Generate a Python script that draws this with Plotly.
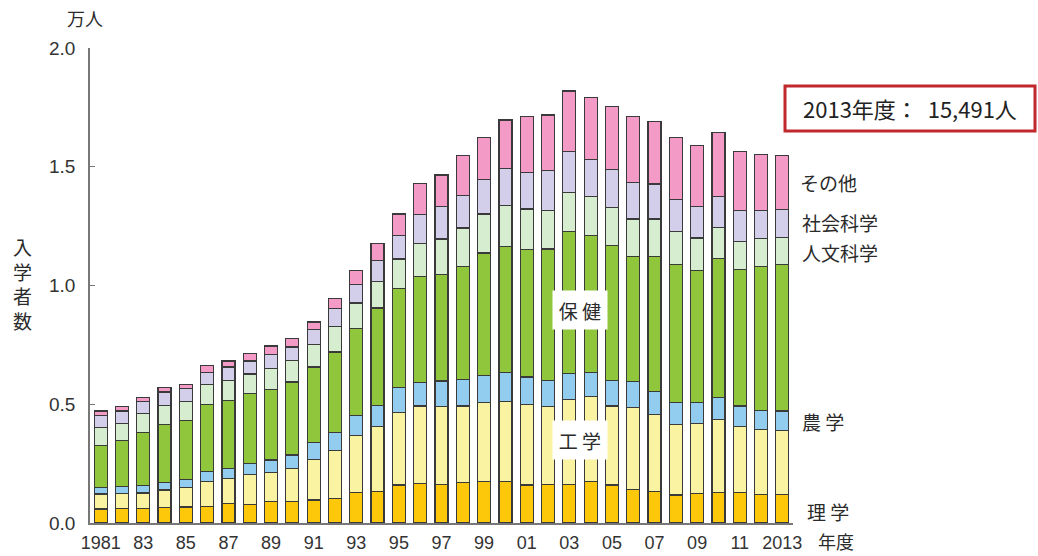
import plotly.graph_objects as go

years = list(range(1981, 2014))
tick_years = list(range(1981, 2014, 2))
tick_text = ["1981", "83", "85", "87", "89", "91", "93", "95", "97", "99",
             "01", "03", "05", "07", "09", "11", "2013"]

# 単位: 万人
rigaku = [0.059, 0.062, 0.062, 0.066, 0.067, 0.069, 0.083, 0.078, 0.090, 0.090, 0.097,
          0.104, 0.127, 0.134, 0.160, 0.167, 0.162, 0.169, 0.174, 0.174, 0.160, 0.162,
          0.162, 0.174, 0.160, 0.141, 0.132, 0.118, 0.125, 0.127, 0.127, 0.120, 0.120]
kougaku = [0.063, 0.063, 0.064, 0.073, 0.081, 0.107, 0.106, 0.125, 0.123, 0.140, 0.171,
           0.200, 0.241, 0.274, 0.304, 0.326, 0.327, 0.324, 0.333, 0.339, 0.339, 0.327,
           0.359, 0.357, 0.333, 0.344, 0.325, 0.298, 0.294, 0.310, 0.278, 0.275, 0.271]
nougaku = [0.026, 0.029, 0.031, 0.030, 0.035, 0.042, 0.041, 0.048, 0.052, 0.056, 0.070,
           0.077, 0.086, 0.088, 0.105, 0.098, 0.109, 0.112, 0.115, 0.120, 0.116, 0.112,
           0.108, 0.102, 0.108, 0.112, 0.098, 0.091, 0.088, 0.091, 0.088, 0.080, 0.081]
hoken = [0.180, 0.195, 0.224, 0.247, 0.248, 0.281, 0.285, 0.294, 0.298, 0.308, 0.319,
         0.339, 0.364, 0.409, 0.417, 0.447, 0.448, 0.476, 0.515, 0.532, 0.536, 0.553,
         0.599, 0.577, 0.567, 0.526, 0.568, 0.581, 0.556, 0.587, 0.574, 0.606, 0.615]
jinbun = [0.074, 0.071, 0.080, 0.080, 0.080, 0.084, 0.086, 0.082, 0.087, 0.091, 0.095,
          0.108, 0.108, 0.112, 0.126, 0.140, 0.150, 0.161, 0.164, 0.171, 0.171, 0.161,
          0.164, 0.164, 0.161, 0.157, 0.157, 0.140, 0.137, 0.130, 0.119, 0.118, 0.116]
shakai = [0.050, 0.052, 0.049, 0.056, 0.055, 0.051, 0.056, 0.055, 0.059, 0.056, 0.062,
          0.074, 0.077, 0.088, 0.098, 0.120, 0.136, 0.136, 0.147, 0.158, 0.154, 0.168,
          0.171, 0.158, 0.158, 0.154, 0.147, 0.133, 0.133, 0.129, 0.129, 0.116, 0.116]
sonota = [0.020, 0.017, 0.019, 0.018, 0.017, 0.028, 0.025, 0.031, 0.036, 0.035, 0.032,
          0.042, 0.060, 0.073, 0.091, 0.132, 0.133, 0.168, 0.175, 0.203, 0.234, 0.235,
          0.256, 0.259, 0.267, 0.276, 0.263, 0.262, 0.255, 0.270, 0.248, 0.238, 0.227]

series = [
    ("理学", rigaku, "#FDC80A"),
    ("工学", kougaku, "#F9F3A2"),
    ("農学", nougaku, "#92CCEE"),
    ("保健", hoken, "#8FC63C"),
    ("人文科学", jinbun, "#D6EDD0"),
    ("社会科学", shakai, "#D3CFEB"),
    ("その他", sonota, "#F39BC6"),
]

JP = "Noto Sans CJK JP"
TXT = "#2b2b2b"

fig = go.Figure()
for name, vals, col in series:
    fig.add_trace(go.Bar(
        x=years, y=vals, name=name,
        marker=dict(color=col, line=dict(color="#3a3a3a", width=1.2)),
    ))

fig.update_layout(
    barmode="stack",
    bargap=0.39,
    width=1038, height=556,
    margin=dict(l=90, r=245, t=48, b=33, autoexpand=False),
    paper_bgcolor="white", plot_bgcolor="white",
    showlegend=False,
    xaxis=dict(
        range=[1980.5, 2013.5], automargin=False,
        tickmode="array", tickvals=tick_years, ticktext=tick_text,
        showgrid=False, zeroline=False,
        showline=True, linecolor="#777777", linewidth=1.5,
        ticks="", ticklabelstandoff=3,
        tickfont=dict(family="Liberation Sans", size=18, color="#333333"),
    ),
    yaxis=dict(
        range=[0, 2.0], dtick=0.5, tickformat=".1f", automargin=False,
        showgrid=False, zeroline=False,
        showline=True, linecolor="#777777", linewidth=1.5,
        ticks="inside", ticklen=5, tickcolor="#777777",
        ticklabelstandoff=9,
        tickfont=dict(family="Liberation Sans", size=19, color="#333333"),
    ),
)

def px_x(p):
    return (p - 90) / 703.0

def px_y(p):
    return (523 - p) / 475.0

def label(text, xp, yp, size=19, xanchor="center", **kw):
    return dict(text=text, xref="paper", yref="paper", x=px_x(xp), y=px_y(yp),
                xanchor=xanchor, yanchor="middle", showarrow=False,
                font=dict(family=JP, size=size, color=kw.pop("color", TXT)), **kw)

ann = []
ann.append(label("万人", 85, 18, size=18))
ann.append(label("入<br>学<br>者<br>数", 22, 283))
ann.append(label("年度", 836, 541, size=18))
for t, xp, yp in [("その他", 798, 182), ("社会科学", 800, 222), ("人文科学", 800, 252),
                  ("農 学", 800, 421), ("理 学", 805, 511)]:
    ann.append(label(t, xp, yp, xanchor="left"))
for t, yp in [("保 健", 310), ("工 学", 440)]:
    ann.append(label(t, 580, yp, bgcolor="white", width=50, height=34, borderpad=2))
ann.append(label("2013年度：  15,491人", 910, 108, size=22, color="#222222"))
fig.update_layout(annotations=ann)

fig.add_shape(type="rect", xref="paper", yref="paper",
              x0=px_x(785), x1=px_x(1035), y0=px_y(131), y1=px_y(86),
              line=dict(color="#C0282D", width=3), fillcolor="white", layer="below")

fig.write_html("out.html")
